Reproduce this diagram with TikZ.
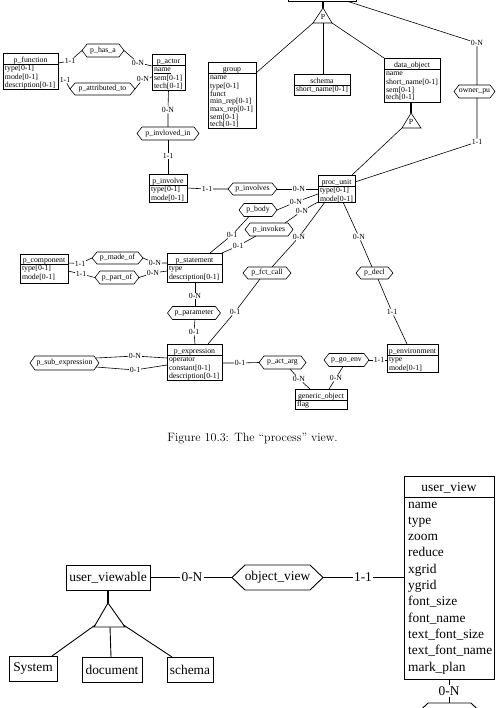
\documentclass[tikz,border=0pt]{standalone}
\usepackage{fontspec}
\newfontfamily\tms{Liberation Serif}
\usetikzlibrary{fit,calc}
\tikzset{
  ln/.style={line width=0.6pt},
  lnb/.style={line width=0.9pt},
  thk/.style={line width=1.8pt},
  thkb/.style={line width=2.6pt},
  sf/.style={font=\tms\fontsize{7.8}{7.7}\selectfont},
  bf/.style={font=\tms\fontsize{13.4}{16.3}\selectfont},
  ebox/.style={draw, ln, inner sep=0pt, outer sep=0pt},
  etitle/.style={sf, inner sep=0pt, anchor=base},
  eattr/.style={sf, inner xsep=1.8pt, inner ysep=1pt, anchor=north west, align=left},
  hexn/.style={inner sep=0pt, outer sep=0pt},
  hs/.style={sf, ln},
  hb/.style={bf, lnb},
  card/.style={sf, fill=white, inner sep=0.6pt},
  bcard/.style={bf, fill=white, inner sep=1pt},
  bbox/.style={draw, lnb, bf, inner sep=0pt, outer sep=0pt},
}
\newcommand\hexa[8]{%
  \node[hexn, minimum width=#5pt, minimum height=#6pt] (#2) at (#3,#4) {};
  \draw[#1] (#2.west) -- ([xshift=#7pt]#2.north west) -- ([xshift=-#7pt]#2.north east) -- (#2.east) -- ([xshift=-#7pt]#2.south east) -- ([xshift=#7pt]#2.south west) -- cycle;
  \node[#1, inner sep=0pt] (#2-t) at (#3,#4) {#8};}
\newcommand\ent[8]{%
  \node[ebox, fit={(#2,#3) (#4,#5)}] (#1) {};
  \draw[ln] (#2,#6) -- (#4,#6);
  \node[etitle] (#1-t) at ({(#2+#4)/2},#6-1.3) {#7};
  \node[eattr] (#1-a) at (#2,#6) {\strut#8};}
\begin{document}
\begin{tikzpicture}[x=1pt,y=-1pt]
\useasboundingbox (0,0) rectangle (501,708);
\clip (0,0) rectangle (501,708);
% ---------- top diagram: entities ----------
\node[ebox, fit={(288,-12) (356,1.5)}] (top) {};
\ent{pfun}{3}{53}{58}{89}{64}{p\_function}{type[0-1]\\mode[0-1]\\description[0-1]}
\ent{pact}{152}{54}{185}{90}{65}{p\_actor}{\underline{name}\\sem[0-1]\\tech[0-1]}
\ent{grp}{208}{62}{256}{128}{73}{group}{name\\type[0-1]\\funct\\min\_rep[0-1]\\max\_rep[0-1]\\sem[0-1]\\tech[0-1]}
\ent{sch}{294}{74}{350}{95}{85}{schema}{short\_name[0-1]}
\ent{dobj}{384}{58}{440}{102}{69}{data\_object}{name\\short\_name[0-1]\\sem[0-1]\\tech[0-1]}
\ent{pinv}{149}{174}{187}{202}{185}{p\_involve}{type[0-1]\\mode[0-1]}
\ent{pu}{318}{175}{355}{202}{186}{proc\_unit}{type[0-1]\\mode[0-1]}
\ent{pst}{167}{253}{222}{282}{264}{p\_statement}{type\\description[0-1]}
\ent{pcomp}{20}{254}{68}{283}{264}{p\_component}{type[0-1]\\mode[0-1]}
\ent{pexp}{167}{344}{222}{380}{355}{p\_expression}{operator\\constant[0-1]\\description[0-1]}
\ent{gob}{295}{389}{347}{409}{400}{generic\_object}{flag}
\ent{penv}{387}{344}{438}{372}{355}{p\_environment}{type\\mode[0-1]}
% ---------- relationships ----------
\hexa{hs}{phasa}{103}{50.5}{42}{13}{5}{p\_has\_a}
\hexa{hs}{pattr}{102.5}{89}{65}{12}{5}{p\_attributed\_to}
\hexa{hs}{pinvin}{168}{133.5}{62}{13}{5}{p\_invloved\_in}
\hexa{hs}{pinvs}{252.5}{189}{49}{12}{5}{p\_involves}
\hexa{hs}{pbody}{258}{210}{38}{13}{5}{p\_body}
\hexa{hs}{pinvk}{269}{229.5}{48}{13}{5}{p\_invokes}
\hexa{hs}{pfct}{267}{273}{48}{12}{5}{p\_fct\_call}
\hexa{hs}{pdecl}{374.5}{273}{37}{12}{5}{p\_decl}
\hexa{hs}{pmade}{117.5}{258}{51}{12}{5}{p\_made\_of}
\hexa{hs}{ppart}{117}{277.5}{44}{13}{5}{p\_part\_of}
\hexa{hs}{ppar}{194}{313}{53}{13}{5}{p\_parameter}
\hexa{hs}{psub}{64.5}{363}{69}{14}{5}{p\_sub\_expression}
\hexa{hs}{pact2}{282.5}{362.5}{47}{13}{5}{p\_act\_arg}
\hexa{hs}{pgo}{346.5}{360}{45}{13}{5}{p\_go\_env}
\hexa{hs}{own}{474.5}{91.5}{41}{13}{5}{owner\_pu}
% ---------- cardinalities ----------
\node[card] (c1) at (70,61) {1-1};
\node[card] (c2) at (138,62.7) {0-N};
\node[card] (c3) at (65,80) {1-1};
\node[card] (c4) at (143,79) {0-N};
\node[card] (c5) at (168,110) {0-N};
\node[card] (c6) at (168,156) {1-1};
\node[card] (c7) at (207,189) {1-1};
\node[card] (c8) at (299,189) {0-N};
\node[card] (c9) at (296,202) {0-N};
\node[card] (c10) at (302,211) {0-N};
\node[card] (c11) at (232,235) {0-1};
\node[card] (c12) at (238,246) {0-1};
\node[card] (c13) at (299,237) {0-N};
\node[card] (c14) at (235,312) {0-1};
\node[card] (c15) at (359,237) {0-N};
\node[card] (c16) at (392,312) {1-1};
\node[card] (c17) at (80,263.5) {1-1};
\node[card] (c18) at (81,274) {1-1};
\node[card] (c19) at (155,263) {0-N};
\node[card] (c20) at (153,273) {0-N};
\node[card] (c21) at (195,296) {0-N};
\node[card] (c22) at (194,332) {0-1};
\node[card] (c23) at (135,356) {0-N};
\node[card] (c24) at (135,370) {0-1};
\node[card] (c25) at (240,363) {0-1};
\node[card] (c26) at (299,379) {0-N};
\node[card] (c27) at (336,378) {0-N};
\node[card] (c28) at (379,360) {1-1};
\node[card] (c29) at (477,43) {0-N};
\node[card] (c30) at (477,142) {1-1};
% ---------- connectors ----------
\draw[ln] (pfun.east |- 0,63) -- (c1) -- (phasa.west);
\draw[ln] (phasa.east) -- (c2) -- (pact.west |- 0,66);
\draw[ln] (pfun.east |- 0,78) -- (c3) -- (pattr.west);
\draw[ln] (pattr.east) -- (c4) -- (pact.west |- 0,77);
\draw[ln] (pact.south) -- (c5) -- (pinvin.north);
\draw[ln] (pinvin.south) -- (c6) -- (pinv.north);
\draw[ln] (pinv.east) -- (c7) -- (pinvs.west);
\draw[ln] (pinvs.east) -- (c8) -- (pu.west |- 0,189);
\draw[ln] (pu.west |- 0,194) -- (c9) -- (pbody.east);
\draw[ln] (pu.south west) -- (c10) -- (pinvk.north -| 285,0);
\draw[ln] (pbody.south -| 249,0) -- (c11) -- (pst.north -| 210,0);
\draw[ln] (pinvk.south -| 256,0) -- (c12) -- (pst.north east);
\draw[ln] (pu.south -| 325,0) -- (c13) -- (pfct.north -| 272,0);
\draw[ln] (pfct.south -| 260,0) -- (c14) -- (pexp.north -| 208,0);
\draw[ln] (pu.south -| 343,0) -- (c15) -- (pdecl.north -| 372,0);
\draw[ln] (pdecl.south -| 378,0) -- (c16) -- (penv.north -| 407,0);
\draw[ln] (pcomp.east |- 0,263) -- (c17) -- (pmade.west);
\draw[ln] (pcomp.east |- 0,271) -- (c18) -- (ppart.west);
\draw[ln] (pmade.east) -- (c19) -- (pst.west |- 0,263);
\draw[ln] (ppart.east) -- (c20) -- (pst.west |- 0,271);
\draw[ln] (pst.south -| 195,0) -- (c21) -- (ppar.north -| 195,0);
\draw[ln] (ppar.south -| 195,0) -- (c22) -- (pexp.north -| 195,0);
\draw[ln] ($(psub.east |- 0,358)+(-3,0)$) -- (c23) -- (pexp.west |- 0,358);
\draw[ln] ($(psub.east |- 0,367)+(-3,0)$) -- (c24) -- (pexp.west |- 0,365);
\draw[ln] (pexp.east |- 0,363) -- (c25) -- (pact2.west);
\draw[ln] (pact2.south -| 290,0) -- (c26) -- (gob.north -| 310,0);
\draw[ln] (pgo.south -| 343,0) -- (c27) -- (gob.north -| 329,0);
\draw[ln] (pgo.east) -- (c28) -- (penv.west |- 0,360);
\draw[ln] (top.south -| 348,0) -- (c29) -- (own.north -| 477,0);
\draw[ln] (own.south -| 477,0) -- (c30) -- (pu.east |- 0,182);
% ---------- generalisations ----------
\coordinate (t1a) at (323,8); \coordinate (t1l) at (313,23);
\coordinate (t1r) at (332,23); \coordinate (t1m) at (323,23);
\draw[ln] (t1a) -- (t1l) -- (t1r) -- cycle;
\node[sf, inner sep=0pt] (t1p) at (323,17) {P};
\draw[thk] (top.south -| 323,0) -- (t1a);
\draw[ln] (t1l) -- (grp.east |- 0,73);
\draw[ln] (t1m) -- (sch.north -| 323,0);
\draw[ln] (t1r) -- (dobj.north west);
\coordinate (t2a) at (411,113); \coordinate (t2l) at (402,128); \coordinate (t2r) at (421,128);
\draw[ln] (t2a) -- (t2l) -- (t2r) -- cycle;
\node[sf, inner sep=0pt] (t2p) at (411,122) {P};
\draw[thk] (dobj.south -| 411,0) -- (t2a);
\draw[ln] (t2l) -- (pu.north -| 352,0);
% ---------- caption ----------
\node[font=\fontsize{12.1}{14}\selectfont, anchor=base, inner sep=0pt] (cap) at (252.5,441) {Figure 10.3: The “process” view.};
% ---------- bottom diagram ----------
\node[bbox, minimum width=84pt, minimum height=25pt] (uv) at (108,577.5) {user\_viewable};
\node[bbox, minimum width=48pt, minimum height=25pt] (sys) at (33,668.5) {System};
\node[bbox, minimum width=60pt, minimum height=25pt] (doc) at (112,669.5) {document};
\node[bbox, minimum width=46pt, minimum height=25pt] (sch2) at (190,669.5) {schema};
\hexa{hb}{ov}{277.5}{577.5}{91}{25}{13}{object\_view}
\node[draw, lnb, inner sep=0pt, outer sep=0pt, fit={(404,476) (494,679)}] (uvw) {};
\draw[lnb] (404,497) -- (494,497);
\node[bf, anchor=base, inner sep=0pt] (uvw-t) at (449,491) {user\_view};
\foreach \t [count=\i] in {name,type,zoom,reduce,xgrid,ygrid,font\_size,font\_name,text\_font\_size,text\_font\_name,mark\_plan}
  \node[bf, anchor=base west, inner sep=0pt] (uva\i) at (408,{508+(\i-1)*16.3}) {\t};
\hexa{hb}{mk}{449.5}{715.5}{69}{25}{13}{}
\node[bcard] (c31) at (192,577.5) {0-N};
\node[bcard] (c32) at (363,577.5) {1-1};
\node[bcard] (c33) at (449,691) {0-N};
\draw[lnb] (uv.east) -- (c31) -- (ov.west);
\draw[lnb] (ov.east) -- (c32) -- (uvw.west |- 0,577.5);
\draw[lnb] (uvw.south -| 449,0) -- (c33) -- (mk.north -| 449,0);
\coordinate (t3a) at (108,603); \coordinate (t3l) at (94,627);
\coordinate (t3r) at (125,627); \coordinate (t3m) at (110,627);
\draw[lnb] (t3a) -- (t3l) -- (t3r) -- cycle;
\draw[thkb] (uv.south) -- (t3a);
\draw[lnb] ($(t3a)!0.92!(t3l)$) -- (sys.north -| 52,0);
\draw[lnb] (t3m) -- (doc.north -| 111,0);
\draw[lnb] ($(t3a)!0.92!(t3r)$) -- (sch2.north -| 172,0);
\end{tikzpicture}
\end{document}
